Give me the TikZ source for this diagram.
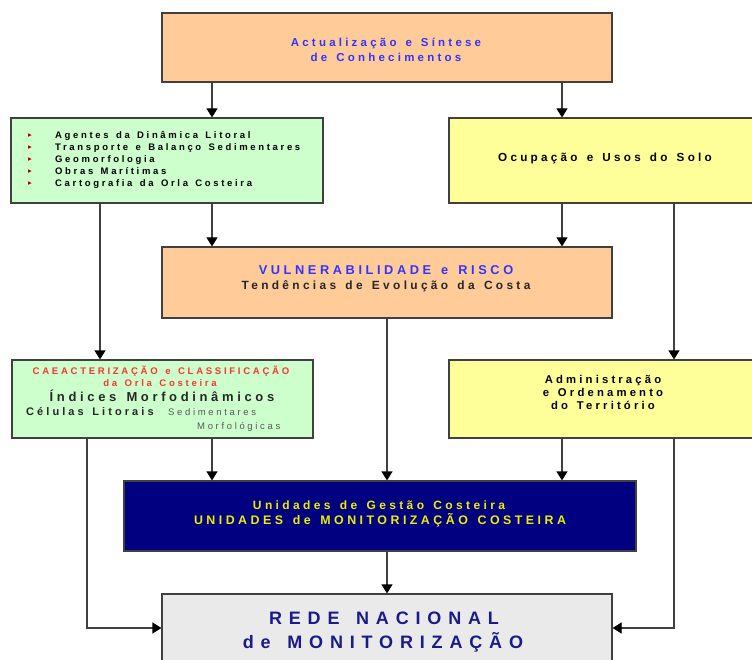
\documentclass[tikz,border=0pt]{standalone}
\usepackage{fontspec}
\setmainfont{Liberation Sans}[LetterSpace=28,WordSpace=1.4]
\newfontfamily\bigfam{Liberation Sans}[LetterSpace=38,WordSpace=1.4]
\newfontfamily\symfont{DejaVu Sans}
\usetikzlibrary{arrows.meta}
\definecolor{orangebox}{HTML}{FFCC99}
\definecolor{greenbox}{HTML}{CCFFCC}
\definecolor{yellowbox}{HTML}{FFFF99}
\definecolor{navybox}{HTML}{000080}
\definecolor{greybox}{HTML}{EAEAEA}
\definecolor{bluetxt}{HTML}{3333FF}
\definecolor{redtxt}{HTML}{FF3333}
\definecolor{yeltxt}{HTML}{EEEE00}
\definecolor{navytxt}{HTML}{1A1A8C}
\definecolor{bulletred}{HTML}{B00000}
\definecolor{linegrey}{HTML}{404040}
\begin{document}
\begin{tikzpicture}[x=1pt,y=-1pt,
  box/.style={draw=linegrey, line width=1.2pt, inner sep=0pt},
  conn/.style={draw=linegrey, line width=1.2pt, -{Triangle[width=11pt,length=9pt,fill=black,color=black]}},
  txt/.style={inner sep=0pt, anchor=base},
  bullet/.style={inner sep=0pt, anchor=base, text=bulletred, font=\symfont\fontsize{7.5}{8}\selectfont}
]
\useasboundingbox (0,0) rectangle (752,660);
\fill[white] (0,0) rectangle (752,660);

% boxes
\node[box, fill=orangebox, minimum width=450pt, minimum height=69pt] (top) at (387,47.5) {};
\node[box, fill=greenbox, minimum width=312pt, minimum height=85pt] (greenA) at (167,160.5) {};
\node[box, fill=yellowbox, minimum width=311pt, minimum height=85pt] (yellowA) at (604.5,160.5) {};
\node[box, fill=orangebox, minimum width=450pt, minimum height=71pt] (vuln) at (387,282.5) {};
\node[box, fill=greenbox, minimum width=301pt, minimum height=78pt] (greenB) at (162.5,399) {};
\node[box, fill=yellowbox, minimum width=311pt, minimum height=78pt] (admin) at (604.5,399) {};
\node[box, fill=navybox, minimum width=512pt, minimum height=70pt] (navy) at (380,516) {};
\node[box, fill=greybox, minimum width=450pt, minimum height=76pt] (grey) at (387,632) {};

% column coordinates
\coordinate (xa) at (212,0);
\coordinate (xb) at (562,0);
\coordinate (xc) at (100,0);
\coordinate (xd) at (674,0);
\coordinate (xm) at (387,0);
\coordinate (xe) at (87,0);
\coordinate (yh) at (0,628);
\coordinate (cornerL) at (87,628);
\coordinate (cornerR) at (674,628);

% connectors
\draw[conn] (top.south -| xa) -- (greenA.north -| xa);
\draw[conn] (top.south -| xb) -- (yellowA.north -| xb);
\draw[conn] (greenA.south -| xa) -- (vuln.north -| xa);
\draw[conn] (yellowA.south -| xb) -- (vuln.north -| xb);
\draw[conn] (greenA.south -| xc) -- (greenB.north -| xc);
\draw[conn] (yellowA.south -| xd) -- (admin.north -| xd);
\draw[conn] (vuln.south -| xm) -- (navy.north -| xm);
\draw[conn] (greenB.south -| xa) -- (navy.north -| xa);
\draw[conn] (admin.south -| xb) -- (navy.north -| xb);
\draw[conn] (navy.south -| xm) -- (grey.north -| xm);
\draw[conn] (greenB.south -| xe) -- (cornerL) -- (grey.west |- yh);
\draw[conn] (admin.south -| xd) -- (cornerR) -- (grey.east |- yh);

% texts: top
\node[txt, text=bluetxt, font=\bfseries\fontsize{11.5}{13}\selectfont] (t1a) at (386,47) {Actualização e Síntese};
\node[txt, text=bluetxt, font=\bfseries\fontsize{11.5}{13}\selectfont] (t1b) at (386,62) {de Conhecimentos};

% green A list
\foreach \i/\y/\t in {1/139/{Agentes da Dinâmica Litoral},2/151/{Transporte e Balanço Sedimentares},3/163/{Geomorfologia},4/175/{Obras Marítimas},5/186.5/{Cartografia da Orla Costeira}}{
  \node[bullet] (b\i) at (30,\y-1) {▸};
  \node[txt, anchor=base west, font=\bfseries\fontsize{9.5}{11}\selectfont] (l\i) at (55,\y) {\t};
}

% yellow A
\node[txt, font=\bfseries\fontsize{11.7}{14}\selectfont] (ocup) at (605,162) {Ocupação e Usos do Solo};

% vuln
\node[txt, text=bluetxt, font=\bfseries\fontsize{12.8}{14}\selectfont] (v1) at (386,275) {VULNERABILIDADE e RISCO};
\node[txt, text=black!85, font=\bfseries\fontsize{11.9}{14}\selectfont] (v2) at (386,290) {Tendências de Evolução da Costa};

% green B
\node[txt, text=redtxt, font=\bfseries\fontsize{9.6}{11}\selectfont] (g1) at (161,374) {CAEACTERIZAÇÃO e CLASSIFICAÇÃO};
\node[txt, text=redtxt, font=\bfseries\fontsize{9.6}{11}\selectfont] (g2) at (160,386) {da Orla Costeira};
\node[txt, text=black!85, font=\bfseries\fontsize{13}{15}\selectfont] (g3) at (162,401) {Índices Morfodinâmicos};
\node[txt, anchor=base west, text=black!85, font=\bfseries\fontsize{11}{14}\selectfont] (g4) at (26,415) {Células Litorais};
\node[txt, anchor=base west, text=black!65, font=\fontsize{9.5}{11}\selectfont] (g5) at (168,415) {Sedimentares};
\node[txt, anchor=base west, text=black!65, font=\fontsize{9.5}{11}\selectfont] (g6) at (197,429) {Morfológicas};

% admin
\node[txt, font=\bfseries\fontsize{11.3}{13}\selectfont] (a1) at (603,383) {Administração};
\node[txt, font=\bfseries\fontsize{11.3}{13}\selectfont] (a2) at (603,396) {e Ordenamento};
\node[txt, font=\bfseries\fontsize{11.3}{13}\selectfont] (a3) at (603,409) {do Território};

% navy
\node[txt, text=yeltxt, font=\bfseries\fontsize{12}{14}\selectfont] (n1) at (379,509) {Unidades de Gestão Costeira};
\node[txt, text=yeltxt, font=\bfseries\fontsize{12.4}{14}\selectfont] (n2) at (380,524) {UNIDADES de MONITORIZAÇÃO COSTEIRA};

% grey
\node[txt, text=navytxt, font=\bigfam\bfseries\fontsize{18}{20}\selectfont] (r1) at (384,624) {REDE NACIONAL};
\node[txt, text=navytxt, font=\bigfam\bfseries\fontsize{18}{20}\selectfont] (r2) at (383,648) {de MONITORIZAÇÃO};
\end{tikzpicture}
\end{document}
